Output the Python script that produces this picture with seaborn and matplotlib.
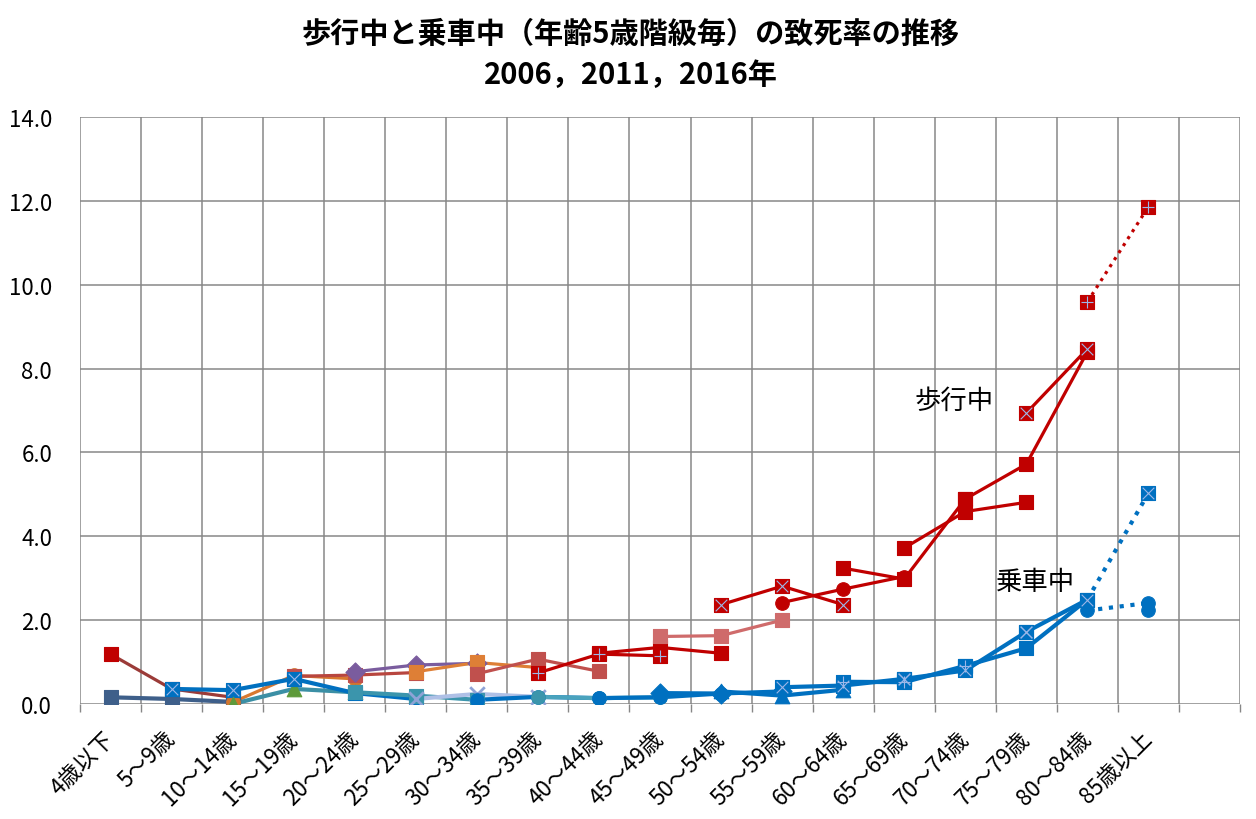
import matplotlib
matplotlib.use("Agg")
import matplotlib.pyplot as plt
from matplotlib.ticker import FixedLocator, FormatStrFormatter
import seaborn as sns
import pandas as pd

sns.set_theme(style="white")
plt.rcParams['font.family'] = ['Noto Sans CJK JP', 'DejaVu Sans']

# age groups (the last slot on the axis is left empty)
ages = ["4歳以下", "5～9歳", "10～14歳", "15～19歳", "20～24歳", "25～29歳",
        "30～34歳", "35～39歳", "40～44歳", "45～49歳", "50～54歳", "55～59歳",
        "60～64歳", "65～69歳", "70～74歳", "75～79歳", "80～84歳", "85歳以上"]
last_age = len(ages) - 1

# 歩行中: cohort start age index and values for 2006, 2011, 2016
walk_start = [0, 2, 3, 4, 5, 6, 7, 8, 9, 10, 11, 12, 13, 14, 15, 16]
walk_vals = [
    [1.19, 0.36, 0.16],
    [0.04, 0.68, 0.60],
    [0.66, 0.69, 0.75],
    [0.77, 0.93, 0.97],
    [0.77, 0.99, 0.87],
    [0.72, 1.07, 0.78],
    [0.74, 1.19, 1.15],
    [1.21, 1.35, 1.21],
    [1.61, 1.63, 2.00],
    [2.37, 2.81, 2.37],
    [2.42, 2.74, 3.04],
    [3.24, 2.98, 4.89],
    [3.72, 4.59, 4.81],
    [4.89, 5.72, 8.40],
    [6.94, 8.47],
    [9.59, 11.86],
]
walk_line = ['#9B3B38', '#D9782F', '#B8463F', '#7A5C9E', '#DE7F36', '#C0504D',
             '#C00000', '#C00000', '#CF6B6B', '#C00000', '#C00000', '#C00000',
             '#C00000', '#C00000', '#C00000', '#C00000']
walk_face = ['#C00000', '#D2762E', '#C0504D', '#7A5C9E', '#DE7F36', '#C0504D',
             '#C00000', '#C00000', '#CF6B6B', '#C00000', '#C00000', '#C00000',
             '#C00000', '#C00000', '#C00000', '#C00000']
walk_marker = ['s', 'o', 's', 'D', 's', 's', 's', 's', 's', 's', 'o', 's',
               's', 's', 's', 's']
walk_inner = [None, None, None, None, None, None, '+', None, None, 'x', None, None,
              None, None, 'x', '+']

# 乗車中
ride_start = [0, 1, 2, 3, 4, 5, 6, 7, 8, 9, 10, 11, 12, 13, 14, 15, 16]
ride_vals = [
    [0.16, 0.12, 0.05],
    [0.36, 0.33, 0.60],
    [0.00, 0.36, 0.28],
    [0.60, 0.26, 0.12],
    [0.28, 0.20, 0.10],
    [0.12, 0.24, 0.17],
    [0.10, 0.17, 0.14],
    [0.17, 0.14, 0.16],
    [0.14, 0.16, 0.25],
    [0.26, 0.25, 0.30],
    [0.30, 0.20, 0.34],
    [0.40, 0.44, 0.60],
    [0.53, 0.52, 0.91],
    [0.60, 0.80, 1.72],
    [0.91, 1.33, 2.49],
    [1.72, 2.49, 5.03],
    [2.23, 2.41, 2.23],
]
ride_line = ['#3E5F8A', '#0070C0', '#3B8FA5', '#0070C0', '#3B95AC', '#AFC0E6',
             '#0070C0', '#4AA3BD', '#0070C0', '#0070C0', '#0070C0', '#0070C0',
             '#0070C0', '#0070C0', '#0070C0', '#0070C0', '#0070C0']
ride_face = ['#3E5F8A', '#0070C0', '#5E9A3A', '#0070C0', '#3B95AC', '#8EA3D6',
             '#0070C0', '#3B95AC', '#0070C0', '#0070C0', '#0070C0', '#0070C0',
             '#0070C0', '#0070C0', '#0070C0', '#0070C0', '#0070C0']
ride_marker = ['s', 's', '^', 's', 's', 'x', 'o', 'o', 'o', 'D', '^', 's', 's',
               's', 's', 's', 'o']
ride_inner = [None, 'x', None, None, None, None, None, None, None, None, None, 'x',
              '+', 'x', None, 'x', None]


def draw_cohort(ax, start, vals, lcolor, fcolor, marker, inner, lw):
    pos = [min(start + k, last_age) for k in range(len(vals))]
    df = pd.DataFrame({'age': pos, 'rate': vals})
    solid = df[df['age'] < last_age]
    if len(solid) > 1:
        sns.lineplot(data=solid, x='age', y='rate', ax=ax, color=lcolor, lw=lw,
                     estimator=None, sort=False)
    if (df['age'] == last_age).any() and len(solid) > 0:
        dotted = df.iloc[len(solid) - 1:]
        sns.lineplot(data=dotted, x='age', y='rate', ax=ax, color=lcolor, lw=lw,
                     linestyle=(0, (1, 1.6)), estimator=None, sort=False)
    size = 95 if marker in ('s', 'o', 'D') else 110
    if marker == 'x':
        sns.scatterplot(data=df, x='age', y='rate', ax=ax, marker=marker, s=size,
                        color=fcolor, linewidth=2, zorder=5)
    else:
        sns.scatterplot(data=df, x='age', y='rate', ax=ax, marker=marker, s=size,
                        color=fcolor, edgecolor=fcolor, linewidth=0.8, zorder=5)
    if inner:
        sns.scatterplot(data=df, x='age', y='rate', ax=ax, marker=inner, s=70,
                        color='#9DB7E8', linewidth=0.8, zorder=6)


fig = plt.figure(figsize=(12.56, 8.2), dpi=100)
ax = fig.add_axes([80 / 1256, 1 - 705 / 820, 1160 / 1256, 587 / 820])

n = max(len(walk_vals), len(ride_vals))
for i in range(n):
    if i < len(walk_vals):
        draw_cohort(ax, walk_start[i], walk_vals[i], walk_line[i], walk_face[i],
                    walk_marker[i], walk_inner[i], 2.3)
    if i < len(ride_vals):
        draw_cohort(ax, ride_start[i], ride_vals[i], ride_line[i], ride_face[i],
                    ride_marker[i], ride_inner[i], 3.0)

ax.set_xlim(-0.5, len(ages) + 0.5)
ax.set_ylim(0, 14)
ax.set_xticks(range(len(ages)))
ax.set_xticklabels(ages, fontsize=16, color='black')
ax.xaxis.set_minor_locator(FixedLocator([k - 0.5 for k in range(len(ages) + 2)]))
ax.set_yticks(range(0, 15, 2))
ax.yaxis.set_major_formatter(FormatStrFormatter('%.1f'))
ax.tick_params(axis='y', length=0, pad=20, labelsize=16, labelcolor='black')
ax.tick_params(axis='x', which='major', length=0, pad=22)
ax.tick_params(axis='x', which='minor', length=6, color='#878787', width=1,
               direction='out', bottom=True)
plt.setp(ax.get_xticklabels(), rotation=45, ha='right', va='center',
         rotation_mode='anchor')
ax.grid(True, axis='y', which='major', color='#878787', lw=1.1)
ax.grid(True, axis='x', which='minor', color='#878787', lw=1.1)
ax.grid(False, axis='x', which='major')
for sp in ax.spines.values():
    sp.set_visible(False)
ax.set_xlabel('')
ax.set_ylabel('')
ax.set_axisbelow(True)

ax.text(13.17, 7.25, '歩行中', fontsize=19, ha='left', va='center', color='black')
ax.text(14.5, 2.93, '乗車中', fontsize=19, ha='left', va='center', color='black')

fig.text(0.502, 1 - 34 / 820, '歩行中と乗車中（年齢5歳階級毎）の致死率の推移',
         ha='center', va='center', fontsize=21, fontweight='bold', color='black')
fig.text(0.502, 1 - 75 / 820, '2006，2011，2016年',
         ha='center', va='center', fontsize=21, fontweight='bold', color='black')

fig.savefig('out.png', dpi=100)
